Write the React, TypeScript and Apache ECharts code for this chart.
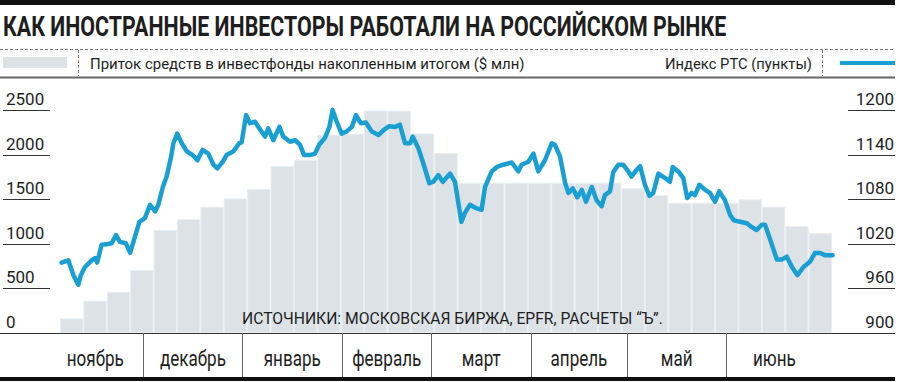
import React, { useEffect, useRef } from 'react';
import * as echarts from 'echarts';

const titleText = 'КАК ИНОСТРАННЫЕ ИНВЕСТОРЫ РАБОТАЛИ НА РОССИЙСКОМ РЫНКЕ';
const flowLegend = 'Приток средств в инвестфонды накопленным итогом ($ млн)';
const rtsLegend = 'Индекс РТС (пункты)';
const sourceNote = 'ИСТОЧНИКИ: МОСКОВСКАЯ БИРЖА, EPFR, РАСЧЕТЫ “Ъ”.';

const months = ['ноябрь', 'декабрь', 'январь', 'февраль', 'март', 'апрель', 'май', 'июнь'];
// day offsets (from 1 November) of each month start, last = end of June
const monthStartDays = [0, 30, 61, 92, 120, 151, 181, 212, 242];

// cumulative weekly inflow, $ mln
const weeklyFlows = [
  165, 363, 464, 708, 1158, 1281, 1420, 1512, 1619, 1877, 1945, 2230, 2240, 2500, 2500, 2243, 2023,
  1690, 1690, 1690, 1690, 1690, 1690, 1690, 1627, 1551, 1465, 1465, 1465, 1503, 1420, 1203, 1121,
];
const weeks = weeklyFlows.map((_, i) => String(i + 1));

// RTS index: day offset from 1 November, value in points
const rtsDays = [
  4.5, 6.6, 8.2, 9.7, 10.5, 11.8, 13.9, 14.9, 15.6, 17.0, 19.1, 20.1, 21.5, 22.7, 24.6, 25.9, 27.4, 28.8,
  30.5, 32.1, 33.7, 34.7, 36.1, 37.3, 38.7, 39.4, 40.6, 42.0, 43.6, 45.4, 46.9, 48.5, 50.3, 51.9, 53.1,
  54.8, 56.0, 58.1, 60.0, 60.7, 62.1, 63.3, 64.9, 65.9, 68.0, 69.0, 70.6, 72.5, 73.7, 75.8, 77.4, 78.9,
  80.2, 82.0, 83.6, 84.9, 86.7, 88.1, 89.1, 90.2, 91.9, 93.5, 95.1, 96.4, 97.9, 99.5, 101.3, 103.4,
  105.1, 106.8, 108.6, 110.1, 111.7, 113.3, 114.1, 115.9, 117.4, 119.3, 120.5, 122.1, 123.5, 125.8,
  127.3, 129.3, 130.4, 132.0, 134.1, 135.6, 136.7, 138.8, 140.4, 142.4, 145.0, 147.1, 148.1, 150.2,
  151.8, 153.3, 155.4, 157.5, 158.5, 160.1, 161.7, 162.7, 164.1, 165.5, 166.9, 168.2, 170.0, 171.5,
  173.1, 174.1, 175.7, 176.7, 178.3, 179.8, 181.4, 182.4, 184.0, 185.1, 186.6, 188.0, 189.2, 190.8,
  192.9, 194.4, 195.3, 197.0, 198.6, 199.8, 201.2, 202.2, 203.6, 205.4, 206.9, 208.5, 209.8, 211.6,
  213.2, 214.4, 216.3, 218.4, 219.9, 221.5, 223.1, 224.1, 225.7, 227.8, 229.3, 230.9, 232.5, 234.2,
  236.1, 238.1, 239.7, 241.3, 242.8, 245.2,
];
const rtsValues = [
  995, 998, 978, 965, 978, 989, 998, 1001, 995, 1019, 1020, 1021, 1032, 1023, 1021, 1008, 1030, 1050,
  1055, 1073, 1064, 1073, 1097, 1111, 1138, 1156, 1169, 1156, 1145, 1140, 1133, 1147, 1142, 1127, 1122,
  1131, 1140, 1145, 1156, 1157, 1194, 1183, 1185, 1178, 1165, 1176, 1160, 1178, 1165, 1158, 1160, 1154,
  1140, 1140, 1142, 1154, 1163, 1178, 1201, 1187, 1169, 1172, 1178, 1194, 1183, 1184, 1172, 1167,
  1174, 1179, 1178, 1181, 1156, 1156, 1165, 1149, 1129, 1102, 1104, 1113, 1104, 1115,
  1104, 1050, 1062, 1073, 1068, 1066, 1097, 1118, 1124, 1127, 1130, 1118, 1127, 1131,
  1142, 1118, 1133, 1156, 1154, 1138, 1102, 1089, 1095, 1083, 1093, 1077, 1097, 1079,
  1071, 1086, 1091, 1117, 1127, 1127, 1118, 1111, 1120, 1125, 1100, 1085, 1089, 1115,
  1109, 1104, 1124, 1118, 1109, 1082, 1089, 1086, 1100, 1093, 1089, 1077, 1091, 1079,
  1059, 1052, 1050, 1048, 1043, 1039, 1046, 1046, 1026, 999, 999, 1003, 989, 978,
  989, 996, 1008, 1008, 1005, 1005,
];

const flowTicks = { min: 0, max: 2500, interval: 500 };
const rtsTicks = { min: 900, max: 1200, interval: 60 };
const dayRange = { min: 4, max: 245 };

const FAMILY = 'Roboto, "Liberation Sans", sans-serif';
const BAR = '#dde2e7';
const BLUE = '#1a9fd2';
const INK = '#1e1e1e';

function fitScale(text: string, font: string, target: number): number {
  const ctx = document.createElement('canvas').getContext('2d');
  if (!ctx) return 1;
  ctx.font = font;
  const w = ctx.measureText(text).width;
  return w > 0 ? target / w : 1;
}

function fittedText(text: string, font: string, x: number, y: number, target: number, align = 'left', z = 5) {
  return {
    type: 'text', x, y, z,
    scaleX: fitScale(text, font, target),
    style: { text, font, fill: INK, textVerticalAlign: 'middle', textAlign: align },
  };
}

export default function App() {
  const ref = useRef<HTMLDivElement>(null);
  useEffect(() => {
    if (!ref.current) return;
    const chart = echarts.init(ref.current, null, { renderer: 'svg' });
    const monthCenters = months.map((_, i) => (monthStartDays[i] + monthStartDays[i + 1]) / 2);
    const monthFont = `22px ${FAMILY}`;
    const monthScale = fitScale(months[0], monthFont, 57);
    chart.setOption({
      animation: false,
      backgroundColor: '#fff',
      textStyle: { fontFamily: FAMILY },
      grid: [
        { left: 60, right: 68, top: 110.6, bottom: 49 },
        { left: 60, right: 68, top: 333, height: 44 },
      ],
      xAxis: [
        { type: 'value', gridIndex: 0, min: dayRange.min, max: dayRange.max, show: false },
        { type: 'category', gridIndex: 0, data: weeks, show: false, boundaryGap: true },
        { type: 'value', gridIndex: 1, min: dayRange.min, max: dayRange.max, show: false },
      ],
      yAxis: [
        {
          type: 'value', gridIndex: 0, position: 'left', offset: 10, ...flowTicks,
          axisLine: { show: false }, splitLine: { show: false },
          axisTick: { show: true, length: 47, lineStyle: { color: '#333', width: 1 } },
          axisLabel: {
            align: 'left', verticalAlign: 'bottom', margin: 44, padding: [0, 0, 3, 0],
            fontSize: 17, color: INK, fontFamily: FAMILY, formatter: (v: number) => String(v),
          },
        },
        {
          type: 'value', gridIndex: 0, position: 'right', offset: 16, ...rtsTicks,
          axisLine: { show: false }, splitLine: { show: false },
          axisTick: { show: true, length: 47, lineStyle: { color: '#333', width: 1 } },
          axisLabel: {
            align: 'right', verticalAlign: 'bottom', margin: 46, padding: [0, 0, 3, 0],
            fontSize: 17, color: INK, fontFamily: FAMILY, formatter: (v: number) => String(v),
          },
        },
        { type: 'value', gridIndex: 1, min: 0, max: 1, show: false },
      ],
      series: [
        {
          type: 'bar', xAxisIndex: 1, yAxisIndex: 0, data: weeklyFlows,
          barCategoryGap: 0, silent: true, z: 1,
          itemStyle: { color: BAR, borderColor: '#eaeef1', borderWidth: 1 },
        },
        {
          type: 'line', xAxisIndex: 0, yAxisIndex: 1,
          data: rtsDays.map((d, i) => [d, rtsValues[i]]),
          showSymbol: false, symbol: 'none', clip: false, z: 3,
          lineStyle: { color: BLUE, width: 4.5, join: 'round', cap: 'round' },
        },
        {
          type: 'custom', xAxisIndex: 2, yAxisIndex: 2, silent: true,
          data: months.map((m, i) => [monthCenters[i], 0.5, m]),
          renderItem: (params: any, api: any) => {
            const p = api.coord([api.value(0), api.value(1)]);
            const label = months[params.dataIndex];
            return {
              type: 'text', x: p[0], y: p[1] + 3.5, scaleX: monthScale,
              style: { text: label, font: monthFont, fill: INK, textAlign: 'center', textVerticalAlign: 'middle' },
            };
          },
          markLine: {
            silent: true, symbol: ['none', 'none'], label: { show: false },
            lineStyle: { color: '#666', width: 1, type: 'solid' },
            data: monthStartDays.slice(1, 8).map((d) => ({ xAxis: d })),
          },
        },
      ],
      graphic: [
        { type: 'rect', shape: { x: 0, y: 0, width: 895, height: 5 }, style: { fill: '#111' } },
        fittedText(titleText, `bold 28px ${FAMILY}`, 3, 26, 724),
        { type: 'line', shape: { x1: 0, y1: 49.5, x2: 895, y2: 49.5 }, style: { stroke: '#777', lineWidth: 1, lineDash: [3, 2] } },
        { type: 'rect', shape: { x: 3, y: 57, width: 64, height: 11 }, style: { fill: BAR } },
        { type: 'line', shape: { x1: 78.5, y1: 50, x2: 78.5, y2: 76 }, style: { stroke: '#777', lineWidth: 1, lineDash: [3, 2] } },
        fittedText(flowLegend, `15px ${FAMILY}`, 90, 64, 435),
        fittedText(rtsLegend, `15px ${FAMILY}`, 812, 64, 147, 'right'),
        { type: 'line', shape: { x1: 822.5, y1: 50, x2: 822.5, y2: 76 }, style: { stroke: '#777', lineWidth: 1, lineDash: [3, 2] } },
        { type: 'line', shape: { x1: 840, y1: 63, x2: 895, y2: 63 }, style: { stroke: BLUE, lineWidth: 4 } },
        { type: 'line', shape: { x1: 0, y1: 77.5, x2: 895, y2: 77.5 }, style: { stroke: '#666', lineWidth: 2 } },
        fittedText(sourceNote, `16px ${FAMILY}`, 242, 318, 421, 'left', 10),
        { type: 'line', shape: { x1: 0, y1: 333.5, x2: 895, y2: 333.5 }, style: { stroke: '#333', lineWidth: 1 } },
        { type: 'rect', shape: { x: 0, y: 377, width: 895, height: 4 }, style: { fill: '#111' } },
      ],
    });
    return () => chart.dispose();
  }, []);
  return <div ref={ref} style={{ position: 'absolute', left: 0, top: 0, width: 900, height: 382 }} />;
}
